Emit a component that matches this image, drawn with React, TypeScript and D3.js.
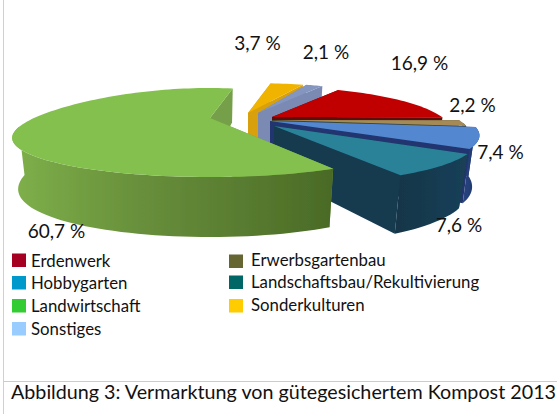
import React from "react";
import * as d3 from "d3";

const categories = ["Erdenwerk", "Erwerbsgartenbau", "Hobbygarten", "Landschaftsbau/Rekultivierung", "Landwirtschaft", "Sonderkulturen", "Sonstiges"];
const values = [16.9, 2.2, 7.4, 7.6, 60.7, 3.7, 2.1];
const valueLabels = ["16,9 %", "2,2 %", "7,4 %", "7,6 %", "60,7 %", "3,7 %", "2,1 %"];
const caption = "Abbildung 3: Vermarktung von gütegesichertem Kompost 2013";

const legendColors = ["#a50021", "#666633", "#0099cc", "#006666", "#33cc33", "#ffcc00", "#99ccff"];
const topColors = ["#c00000", "#a58a55", "#5288d0", "#2c8298", "#84c04e", "#f0b400", "#8496bf"];
const wallColors = ["#5c0808", "#3b4630", "#20366f", "#143a50", "#759f48", "#d9a010", "#7a8ab2"];
const rimStops = [
  ["#7a0c0c", "#5c0808"],
  ["#4a5030", "#3b4630"],
  ["#2a4684", "#1d3060"],
  ["#123548", "#1a4058"],
  ["#4a6a26", "#7eb04a"],
  ["#d9a010", "#d9a010"],
  ["#7a8ab2", "#7a8ab2"],
];

const apexX = [272, 272, 270, 274, 210, 248, 258];
const apexY = [117, 120, 121, 126, 118, 113, 113];
const radii = [170, 187, 198, 192, 187, 187, 165];
const shrink = [0.97, 0.97, 0.965, 0.955, 0.97, 0.97, 0.97];
const sag = [0, 0, 0, 0, 6, 0, 0];
const drawOrder = [5, 6, 0, 1, 2, 3, 4];

const labelX = [419.5, 472.5, 500.5, 459, 56.5, 257.5, 326];
const labelY = [70, 112, 159, 232, 238, 50, 59];

const legendOrder = [0, 2, 4, 6, 1, 3, 5];
const legendX = [12, 12, 12, 12, 229, 229, 229];
const legendY = [253.5, 276, 299, 322, 254.5, 275.5, 299];
const legendBase = [266.7, 289.3, 311.7, 335, 266, 288.3, 311];

const persA = 39.8;
const persB = 0.326;
const height = (Y: number) => 47 + 13 * Y;

function top(i: number, a: number): [number, number] {
  const X = Math.sin(a);
  const Y = -Math.cos(a);
  const k = 1 - persB * Y;
  return [apexX[i] + (radii[i] * X) / k, apexY[i] + (persA * Y) / k + sag[i] * X * X];
}
function bottom(i: number, a: number): [number, number] {
  const [x, y] = top(i, a);
  return [apexX[i] + (x - apexX[i]) * shrink[i], y + height(-Math.cos(a))];
}
const line = d3.line();

export default function App() {
  const arcs = d3
    .pie<number>()
    .sort(null)
    .startAngle((30 * Math.PI) / 180)
    .endAngle((390 * Math.PI) / 180)(values);

  return (
    <svg
      width={557}
      height={414}
      style={{ position: "absolute", left: 0, top: 0, background: "#fff", fontFamily: "Lato" }}
    >
      <defs>
        {rimStops.map((s, i) => (
          <linearGradient key={i} id={`rim${i}`} x1="0" x2="1" y1="0" y2="0">
            <stop offset="0" stopColor={i === 4 ? s[1] : s[0]} />
            {i === 4 && <stop offset="0.4" stopColor="#688f3b" />}
            <stop offset="1" stopColor={i === 4 ? s[0] : s[1]} />
          </linearGradient>
        ))}
        <filter id="soft" x="-5%" y="-5%" width="110%" height="110%">
          <feGaussianBlur stdDeviation="0.6" />
        </filter>
      </defs>
      <line x1={3.5} x2={3.5} y1={0} y2={414} stroke="#d0d0d0" strokeWidth={1} />
      <line x1={3} x2={557} y1={381.5} y2={381.5} stroke="#cccccc" strokeWidth={1} />

      <g filter="url(#soft)">
        {drawOrder.map((i) => {
          const s = arcs[i];
          const n = Math.max(8, Math.ceil(((s.endAngle - s.startAngle) * 180) / Math.PI / 2));
          const angles = d3.range(n + 1).map((k) => s.startAngle + ((s.endAngle - s.startAngle) * k) / n);
          const apexTop: [number, number] = [apexX[i], apexY[i]];
          const apexBottom: [number, number] = [apexX[i], apexY[i] + height(0)];
          const wall = (a: number) => line([apexTop, top(i, a), bottom(i, a), apexBottom]) + "Z";
          const front = angles.filter((a) => -Math.cos(a) > 0.05);
          const rim =
            front.length > 1
              ? line([...front.map((a) => top(i, a)), ...front.slice().reverse().map((a) => bottom(i, a))]) + "Z"
              : null;
          const face = line([apexTop, ...angles.map((a) => top(i, a))]) + "Z";
          return (
            <g key={categories[i]}>
              <path d={wall(s.startAngle)} fill={wallColors[i]} />
              <path d={wall(s.endAngle)} fill={wallColors[i]} />
              {rim && <path d={rim} fill={`url(#rim${i})`} />}
              <path d={face} fill={topColors[i]} />
            </g>
          );
        })}
      </g>

      {valueLabels.map((t, i) => (
        <text key={i} x={labelX[i]} y={labelY[i]} textAnchor="middle" fontSize={19} fill="#111">
          {t}
        </text>
      ))}

      {legendOrder.map((c, k) => (
        <g key={c}>
          <rect x={legendX[k]} y={legendY[k]} width={14} height={13.5} fill={legendColors[c]} />
          <text x={legendX[k] + 19 + (k > 3 ? 3 : 0)} y={legendBase[k]} fontSize={16.8} fill="#111">
            {categories[c]}
          </text>
        </g>
      ))}

      <text x={11} y={399} fontSize={19} fill="#111" textLength={545} lengthAdjust="spacingAndGlyphs">
        {caption}
      </text>
    </svg>
  );
}
